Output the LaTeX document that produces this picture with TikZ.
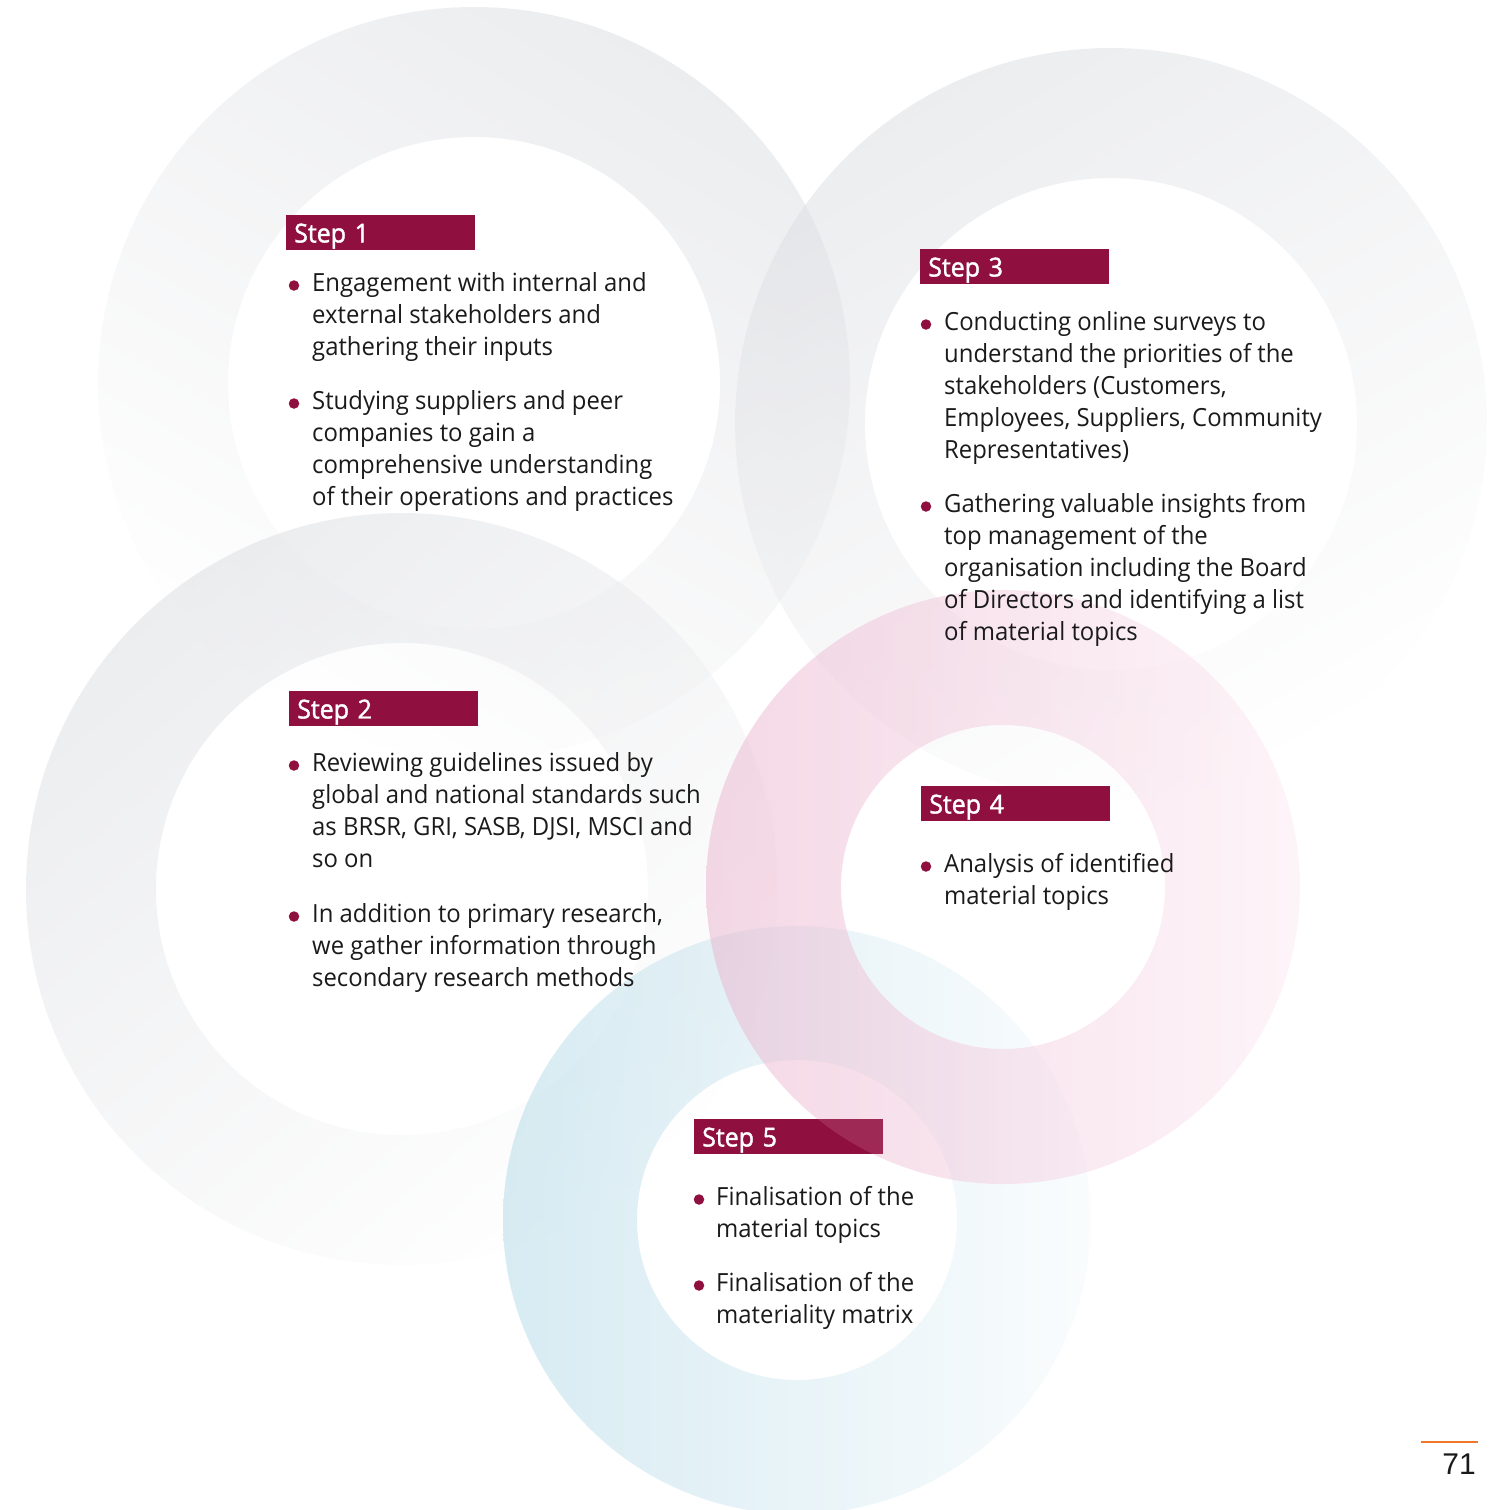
\documentclass[tikz,border=0pt]{standalone}
\usepackage{fontspec}
\setmainfont{Open Sans}[FakeStretch=0.955]
\newfontfamily\stepfont{Open Sans}[FakeStretch=0.96,FakeBold=1.6]
\newfontfamily\numfont{Liberation Sans}
\definecolor{crim}{RGB}{143,15,62}
\definecolor{txt}{RGB}{26,26,26}
\definecolor{ringgray}{RGB}{218,220,224}
\definecolor{pinkL}{RGB}{234,178,204}
\definecolor{pinkR}{RGB}{252,234,242}
\definecolor{blueL}{RGB}{176,216,230}
\definecolor{blueR}{RGB}{245,250,252}
\definecolor{orangeln}{RGB}{240,120,40}
\tikzset{
  ring/.style={even odd rule, opacity=0.5},
  stepbox/.style={anchor=north west, fill=crim, text=white, inner xsep=8pt, inner ysep=0pt,
    minimum width=189pt, minimum height=34.5pt, text width=173pt, align=left,
    text height=24pt, text depth=4pt, font=\stepfont\fontsize{26}{30}\selectfont},
  txtline/.style={anchor=base west, inner sep=0pt, text=txt, font=\fontsize{25}{32}\selectfont},
  dot/.style={circle, fill=crim, inner sep=0pt, minimum size=10.5pt}
}
\begin{document}
\begin{tikzpicture}[x=1pt,y=-1pt]
\useasboundingbox (0,0) rectangle (1503,1510);
% rings
\shade[ring, top color=ringgray, bottom color=white, shading angle=-30]
  (474,383) circle[radius=376] (474,383) circle[radius=246];
\shade[ring, top color=ringgray, bottom color=white, shading angle=30]
  (1111,424) circle[radius=376] (1111,424) circle[radius=246];
\shade[ring, top color=ringgray, bottom color=white, shading angle=40]
  (402,889) circle[radius=376] (402,889) circle[radius=246];
\shade[ring, left color=blueL, right color=blueR]
  (797,1220) circle[radius=294] (797,1220) circle[radius=160];
\shade[ring, left color=pinkL, right color=pinkR]
  (1003,887) circle[radius=297] (1003,887) circle[radius=162];

% Step 1
\node[stepbox] (s1) at (286,215) {Step 1};
\node[dot] (b1a) at (294,285.5) {};
\foreach \t [count=\i from 0] in {Engagement with internal and, external stakeholders and, gathering their inputs}
  \node[txtline] (t1a\i) at (312,291+32*\i) {\t};
\node[dot] (b1b) at (294,403.5) {};
\foreach \t [count=\i from 0] in {Studying suppliers and peer, companies to gain a, comprehensive understanding, of their operations and practices}
  \node[txtline] (t1b\i) at (312,409+32*\i) {\t};

% Step 2
\node[stepbox] (s2) at (289,691) {Step 2};
\node[dot] (b2a) at (294,765.5) {};
\foreach \t [count=\i from 0] in {Reviewing guidelines issued by, global and national standards such, {as BRSR, GRI, SASB, DJSI, MSCI and}, so on}
  \node[txtline] (t2a\i) at (312,771+32*\i) {\t};
\node[dot] (b2b) at (294,916.5) {};
\foreach \t [count=\i from 0] in {{In addition to primary research,}, we gather information through, secondary research methods}
  \node[txtline] (t2b\i) at (312,922+32*\i) {\t};

% Step 3
\node[stepbox] (s3) at (920,249) {Step 3};
\node[dot] (b3a) at (926,324.5) {};
\foreach \t [count=\i from 0] in {Conducting online surveys to, understand the priorities of the, {stakeholders (Customers,}, {Employees, Suppliers, Community}, Representatives)}
  \node[txtline] (t3a\i) at (944,330+32*\i) {\t};
\node[dot] (b3b) at (926,506.5) {};
\foreach \t [count=\i from 0] in {Gathering valuable insights from, top management of the, organisation including the Board, of Directors and identifying a list, of material topics}
  \node[txtline] (t3b\i) at (944,512+32*\i) {\t};

% Step 4
\node[stepbox] (s4) at (921,786) {Step 4};
\node[dot] (b4a) at (926,866.5) {};
\foreach \t [count=\i from 0] in {Analysis of identified, material topics}
  \node[txtline] (t4a\i) at (944,872+32*\i) {\t};

% Step 5
\node[stepbox] (s5) at (694,1119) {Step 5};
\begin{scope}
  \clip (s5.south west) rectangle (s5.north east);
  \fill[pinkL, opacity=0.16, even odd rule]
    (1003,887) circle[radius=297] (1003,887) circle[radius=162];
\end{scope}
\node[dot] (b5a) at (699,1199.5) {};
\foreach \t [count=\i from 0] in {Finalisation of the, material topics}
  \node[txtline] (t5a\i) at (716,1205+32*\i) {\t};
\node[dot] (b5b) at (699,1285.5) {};
\foreach \t [count=\i from 0] in {Finalisation of the, materiality matrix}
  \node[txtline] (t5b\i) at (716,1291+32*\i) {\t};

% page number
\coordinate (la) at (1421,1442);
\coordinate (lb) at (1478,1442);
\draw[orangeln, line width=2.5pt] (la) -- (lb);
\node[anchor=base east, inner sep=0pt, text=txt, font=\numfont\fontsize{30}{30}\selectfont] (pg) at (1476,1474) {71};
\end{tikzpicture}
\end{document}
